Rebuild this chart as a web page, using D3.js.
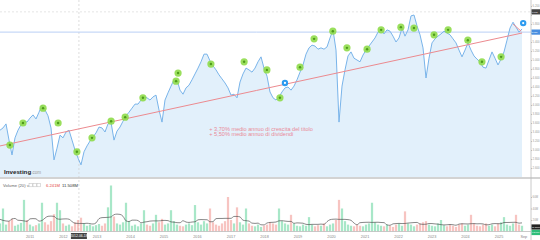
<!DOCTYPE html>
<html><head><meta charset="utf-8">
<script src="https://cdn.jsdelivr.net/npm/d3@7"></script>
<style>html,body{margin:0;padding:0;background:#fff;overflow:hidden}svg{display:block;font-family:"Liberation Sans",Arial,sans-serif}</style>
</head><body><svg id="c" width="540" height="240"></svg>
<script>
// ---------- DATA ----------
const seriesStart = "2010-02-08";
const seriesEnd = "2025-09-08";
const axisStart = "2010-02-08";
const axisEnd = "2025-12-15";
const prices = [3.44,3.49,3.58,3.22,2.89,3.27,3.44,3.56,3.64,3.62,
3.71,3.78,3.69,3.84,4.00,3.89,3.76,3.49,2.78,3.04,
3.33,3.27,3.40,3.44,3.22,3.00,2.82,2.67,2.96,3.09,
3.20,3.29,3.38,3.51,3.49,3.40,3.58,3.62,3.22,3.42,
3.51,3.64,3.76,3.84,3.93,4.02,4.02,4.11,4.18,4.16,
4.11,4.18,4.22,3.89,3.62,4.11,4.27,4.42,4.56,4.56,
4.33,4.24,4.38,4.44,4.56,4.69,4.82,4.96,5.13,5.13,
4.98,4.87,4.78,4.67,4.58,4.49,4.38,4.22,4.24,4.16,
4.51,4.69,4.82,4.78,4.73,4.82,4.96,5.07,4.82,4.64,
4.29,4.16,4.11,4.18,4.29,4.38,4.40,4.33,4.42,4.56,
4.73,4.89,5.13,5.27,5.33,5.31,5.24,5.27,5.24,5.29,
5.49,5.67,5.22,3.62,4.42,4.78,5.09,5.18,5.04,5.00,
4.96,5.11,5.22,5.31,5.40,5.49,5.62,5.67,5.58,5.67,
5.64,5.53,5.40,5.49,5.71,5.53,5.67,5.98,6.00,5.76,
5.56,5.27,4.60,5.04,5.38,5.47,5.53,5.58,5.64,5.60,
5.56,5.47,5.38,5.22,5.07,5.22,5.38,5.22,5.09,5.02,
4.96,4.84,4.82,5.00,5.18,5.04,4.89,5.02,5.18,5.44,
5.71,5.84,5.73,5.62,5.69];
const volumes = [14,40,12,18,22,10,12,15,55,20,
12,9,11,14,50,16,12,18,30,50,
37,14,10,12,9,16,20,24,14,10,
12,9,11,13,10,14,42,80,26,14,
12,16,50,18,10,12,9,14,37,12,
10,14,29,16,22,12,14,37,18,12,
10,9,12,14,11,46,16,12,18,14,
40,16,12,10,14,18,60,20,14,42,
16,12,40,14,10,9,12,8,10,12,
16,14,12,40,18,14,12,29,14,10,
9,12,10,25,12,9,11,10,14,9,
12,14,20,55,40,18,12,10,9,12,
10,9,12,14,50,16,12,10,9,12,
10,8,12,14,10,35,14,12,9,12,
14,16,18,12,10,9,14,20,11,9,
12,10,8,12,14,10,12,29,14,10,
9,12,14,10,12,9,14,16,25,12,
10,14,29,12,10];
const dividendYears = [2010.40,2010.79,2011.39,2011.84,2012.40,2012.85,2013.42,2013.84,2014.37,2015.36,2015.42,2016.40,2017.39,2018.07,2018.46,2019.06,2019.48,2020.04,2020.46,2021.06,2021.48,2022.07,2022.46,2023.06,2023.48,2024.07,2024.49,2025.06];
const dividendPrices = [3.11,3.60,3.93,3.60,2.96,3.27,3.64,3.73,4.16,4.53,4.71,4.91,4.96,4.78,4.16,4.84,5.47,5.64,5.27,5.24,5.67,5.73,5.71,5.56,5.67,5.44,4.96,5.07];
const blueMarkYears = [2018.61, 2025.72];
const blueMarkPrices = [4.49, 5.82];
const trendYears = [2010.104, 2025.687];
const trendPrices = [3.09, 5.60];
const arrowYears = [2025.418, 2025.657];
const arrowPrices = [5.80, 5.64];
const crossYear = 2012.46;
const crossPrice = 5.62;
const gridPrice = 6.07;
const priceTicks = [2.6,2.8,3.0,3.2,3.4,3.6,3.8,4.0,4.2,4.4,4.6,4.8,5.0,5.2,5.4,5.6,5.8,6.0,6.2];
const volTicks = [20,40,60];
const volTickLabels = ["20M","40M","60M"];
const yearLabels = ["2011","2012","2013","2014","2015","2016","2017","2018","2019","2020","2021","2022","2023","2024","2025","Sep"];
const yearLabelYears = [2011,2012,2013,2014,2015,2016,2017,2018,2019,2020,2021,2022,2023,2024,2025,2025.74];
const annotations = ["+ 3,70% medio annuo di crescita del titolo","+ 5,50% medio annuo di dividendi"];
const annotYear = 2016.35, annotPrice = [3.43, 3.32];

// ---------- HELPERS ----------
function yd(y){const yr=Math.floor(y);const s=new Date(yr,0,1),e=new Date(yr+1,0,1);return new Date(+s+(y-yr)*(e-s));}
const svg = d3.select("#c");
const plotR = 531, priceB = 177, volB = 231.5;
const x = d3.scaleTime().domain([new Date(axisStart), new Date(axisEnd)]).range([0, plotR]);
const y = d3.scaleLinear().domain([2.4, 2.4 + 177/45]).range([priceB, 0]);
const yv = d3.scaleLinear().domain([0, 100]).range([volB, volB - 57.5]);
const s0 = new Date(seriesStart), s1 = new Date(seriesEnd);
const dates = prices.map((_, i) => new Date(+s0 + i*(s1 - s0)/(prices.length - 1)));
const data = prices.map((p, i) => ({d: dates[i], p, v: volumes[i]}));

// ---------- PRICE PANEL ----------
svg.append("path").datum(data)
  .attr("d", d3.area().x(d=>x(d.d)).y0(priceB).y1(d=>y(d.p)))
  .attr("fill", "#e2f0fb");
svg.append("line").attr("x1",0).attr("x2",plotR).attr("y1",y(gridPrice)).attr("y2",y(gridPrice))
  .attr("stroke","#d8d8d8").attr("stroke-dasharray","2,2").attr("stroke-width",0.7);
svg.append("line").attr("x1",x(yd(crossYear))).attr("x2",x(yd(crossYear))).attr("y1",0).attr("y2",volB)
  .attr("stroke","#cfcfcf").attr("stroke-dasharray","2,2").attr("stroke-width",0.7);
svg.append("line").attr("x1",0).attr("x2",plotR).attr("y1",y(crossPrice)).attr("y2",y(crossPrice))
  .attr("stroke","#b9cff5").attr("stroke-width",1);
svg.append("path").datum(data)
  .attr("d", d3.line().x(d=>x(d.d)).y(d=>y(d.p)))
  .attr("fill","none").attr("stroke","#79b4ea").attr("stroke-width",1);
svg.append("line").attr("x1",x(yd(trendYears[0]))).attr("x2",x(yd(trendYears[1])))
  .attr("y1",y(trendPrices[0])).attr("y2",y(trendPrices[1]))
  .attr("stroke","#ec8a8f").attr("stroke-width",1);
svg.append("line").attr("x1",x(yd(arrowYears[0]))).attr("x2",x(yd(arrowYears[1])))
  .attr("y1",y(arrowPrices[0])).attr("y2",y(arrowPrices[1]))
  .attr("stroke","#ec8a8f").attr("stroke-width",1);
const dg = svg.append("g");
dividendYears.forEach((yr,i)=>{
  const cx=x(yd(yr)), cy=y(dividendPrices[i]);
  dg.append("circle").attr("cx",cx).attr("cy",cy).attr("r",3.6).attr("fill","#8fdc4a").attr("opacity",0.9);
  dg.append("circle").attr("cx",cx).attr("cy",cy).attr("r",1.2).attr("fill","#4e9a1c");
});
blueMarkYears.forEach((yr,i)=>{
  const cx=x(yd(yr)), cy=y(blueMarkPrices[i]);
  dg.append("circle").attr("cx",cx).attr("cy",cy).attr("r",3.2).attr("fill","#2d9bf0");
  dg.append("circle").attr("cx",cx).attr("cy",cy).attr("r",1.1).attr("fill","#ffffff");
});
annotations.forEach((t,i)=>{
  svg.append("text").attr("x",x(yd(annotYear))).attr("y",y(annotPrice[i]))
    .attr("font-size",5.6).attr("fill","#e98a98").text(t);
});
const logo = svg.append("text").attr("x",4).attr("y",174).attr("font-size",6.2);
logo.append("tspan").attr("font-weight","bold").attr("fill","#222").text("Investing");
logo.append("tspan").attr("fill","#999").attr("font-size",4.5).text(".com");

svg.append("line").attr("x1",0).attr("x2",540).attr("y1",178).attr("y2",178).attr("stroke","#c4c4c4").attr("stroke-width",1.4);

// ---------- VOLUME PANEL ----------
const vg = svg.append("g");
data.forEach((d,i)=>{
  const up = i===0 || d.p >= data[i-1].p;
  vg.append("rect").attr("x",x(d.d)-1.1).attr("width",2.2)
    .attr("y",yv(d.v)).attr("height",volB-yv(d.v))
    .attr("fill", up ? "#52cf92" : "#f08a84").attr("opacity",0.5);
});
const ma = data.map((d,i)=>({d:d.d, m:d3.mean(data.slice(Math.max(0,i-4),i+5), e=>e.v)}));
svg.append("path").datum(ma).attr("d", d3.line().curve(d3.curveMonotoneX).x(d=>x(d.d)).y(d=>yv(d.m)))
  .attr("fill","none").attr("stroke","#555").attr("stroke-width",0.7);
svg.append("text").attr("x",3).attr("y",187).attr("font-size",4.2).attr("fill","#666").text("Volume (20)  \u02C5");
[0,1,2].forEach(k=>svg.append("rect").attr("x",29+k*4).attr("y",183.5).attr("width",3.3).attr("height",3.3)
  .attr("fill","none").attr("stroke","#bbb").attr("stroke-width",0.5));
svg.append("text").attr("x",46).attr("y",187).attr("font-size",4.2).attr("fill","#e4473e").text("6.241M");
svg.append("text").attr("x",62).attr("y",187).attr("font-size",4.2).attr("fill","#333").text("11.508M");

// ---------- AXES ----------
svg.append("line").attr("x1",plotR).attr("x2",plotR).attr("y1",0).attr("y2",240).attr("stroke","#bdbdbd").attr("stroke-width",0.8);
svg.append("line").attr("x1",0).attr("x2",plotR).attr("y1",volB).attr("y2",volB).attr("stroke","#bdbdbd").attr("stroke-width",0.8);
const boxYs = [y(gridPrice), y(crossPrice)];
const ax = svg.append("g").attr("transform",`translate(${plotR},0)`)
  .call(d3.axisRight(y).tickValues(priceTicks).tickSize(1).tickPadding(0.6).tickFormat(d3.format(".3f")));
ax.select(".domain").remove();
ax.selectAll("text").attr("font-size",2.8).attr("fill","#999")
  .attr("display", d => boxYs.some(b => Math.abs(y(d) - b) < 4.5) ? "none" : null);
ax.selectAll("line").attr("stroke","#bbb");
const av = svg.append("g").attr("transform",`translate(${plotR},0)`)
  .call(d3.axisRight(yv).tickValues(volTicks).tickSize(1).tickPadding(0.6).tickFormat((d,i)=>volTickLabels[i]));
av.select(".domain").remove();
av.selectAll("text").attr("font-size",2.8).attr("fill","#999");
av.selectAll("line").attr("stroke","#bbb");
function box(yc, fill, txt){
  svg.append("rect").attr("x",plotR+0.5).attr("y",yc-2.6).attr("width",8.5).attr("height",5.2).attr("fill",fill);
  svg.append("text").attr("x",plotR+1).attr("y",yc+0.9).attr("font-size",2.2).attr("fill","#fff").text(txt);
}
box(y(gridPrice), "#444", "6.072");
box(y(crossPrice), "#4a8fe0", "5.620");
box(227, "#222", "11.508M");
box(232.5, "#2ebd7a", "6.241M");
yearLabels.forEach((t,i)=>{
  svg.append("text").attr("x",x(yd(yearLabelYears[i]))).attr("y",237.5).attr("text-anchor","middle")
    .attr("font-size",3.8).attr("fill","#888").text(t);
});
const cxp = x(yd(crossYear));
svg.append("rect").attr("x",cxp-8).attr("y",233).attr("width",16).attr("height",6).attr("fill","#444");
svg.append("text").attr("x",cxp).attr("y",237.3).attr("text-anchor","middle").attr("font-size",3.4).attr("fill","#fff").text("2012-06-18");
</script></body></html>
